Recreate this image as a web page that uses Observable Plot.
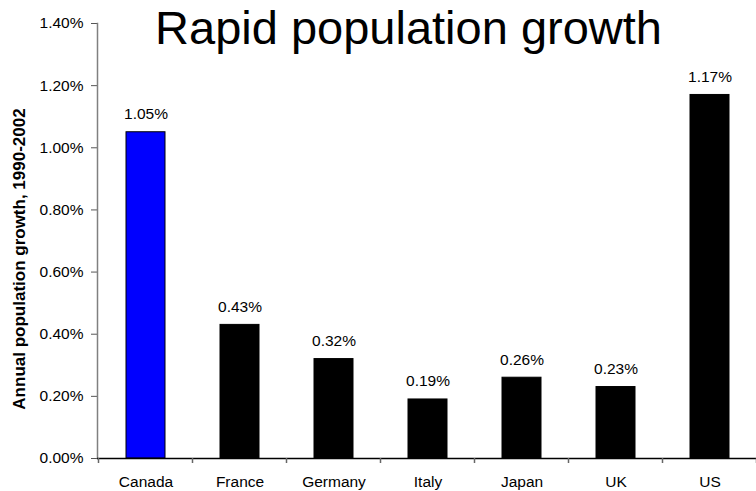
<!DOCTYPE html>
<html>
<head>
<meta charset="utf-8">
<script src="https://cdn.jsdelivr.net/npm/d3@7"></script>
<script src="https://cdn.jsdelivr.net/npm/@observablehq/plot@0.6"></script>
<style>
  html, body { margin: 0; padding: 0; background: #fff; }
  #chart svg { display: block; }
</style>
</head>
<body>
<div id="chart"></div>
<script>
const categories = ["Canada", "France", "Germany", "Italy", "Japan", "UK", "US"];
const growth = [1.05, 0.43, 0.32, 0.19, 0.26, 0.23, 1.17];
const yTicks = [0, 0.2, 0.4, 0.6, 0.8, 1.0, 1.2, 1.4];
const highlight = "Canada";
const titleText = "Rapid population growth";
const yLabelText = "Annual population growth, 1990-2002";

const data = categories.map((c, i) => ({country: c, growth: growth[i]}));
const pct = v => d3.format(".2f")(v) + "%";
const font = "'Liberation Sans', Arial, Helvetica, sans-serif";

const chart = Plot.plot({
  width: 756,
  height: 491,
  marginLeft: 97,
  marginRight: -1,
  marginTop: 23,
  marginBottom: 33,
  style: {fontFamily: font, fontSize: "15.5px", background: "#fff", color: "#000"},
  x: {domain: categories, paddingInner: 0.59, paddingOuter: 0.295},
  y: {domain: [0, 1.4]},
  marks: [
    Plot.barY(data, {
      x: "country", y: "growth",
      fill: d => d.country === highlight ? "#0000ff" : "#000000",
      stroke: "#000", strokeWidth: 1
    }),
    Plot.text(data, {
      x: "country", y: "growth", text: d => pct(d.growth),
      lineAnchor: "bottom", dy: -13, fontSize: 15.5, fill: "#000"
    }),
    Plot.axisY({
      ticks: yTicks, tickFormat: pct, tickSize: 6, tickPadding: 8,
      label: null, stroke: "#555", fontSize: 15.5, fill: "#000"
    }),
    Plot.axisX({tickSize: 0, tickPadding: 17, label: null, fontSize: 15.5, fill: "#000"}),
    Plot.frame({anchor: "left", stroke: "#808080", strokeWidth: 1.5}),
    Plot.ruleY([0], {stroke: "#000", strokeWidth: 1.5}),
    Plot.text([titleText], {
      frameAnchor: "top", lineAnchor: "bottom", dy: 20, dx: -19,
      fontSize: 47, fill: "#000"
    }),
    Plot.text([yLabelText], {
      frameAnchor: "left", textAnchor: "middle", lineAnchor: "middle",
      rotate: -90, dx: -78, dy: 18,
      fontSize: 17, fontWeight: "bold", fill: "#000"
    })
  ]
});

// category boundary tick marks on the x axis, derived from the band scale
const xs = chart.scale("x");
const ys = chart.scale("y");
const y0 = ys.apply(0);
const bounds = categories.map(c => xs.apply(c) + xs.bandwidth / 2 - xs.step / 2);
bounds.push(xs.apply(categories[categories.length - 1]) + xs.bandwidth / 2 + xs.step / 2);
d3.select(chart).append("g")
  .attr("stroke", "#666")
  .attr("stroke-width", 1.5)
  .selectAll("line")
  .data(bounds)
  .join("line")
  .attr("x1", d => d).attr("x2", d => d)
  .attr("y1", y0).attr("y2", y0 + 5);

document.getElementById("chart").append(chart);
</script>
</body>
</html>
